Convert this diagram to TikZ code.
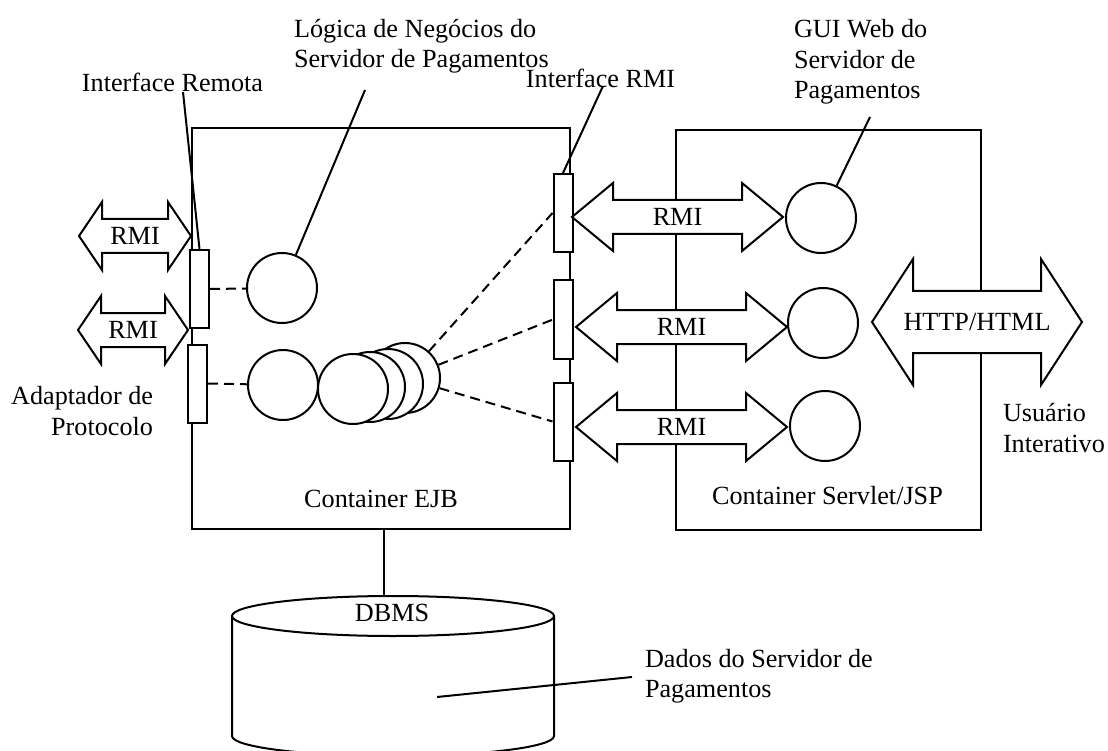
\documentclass[tikz,border=0pt]{standalone}
\usepackage{fontspec}
\setmainfont{Liberation Serif}
\usepackage{tikz}

\tikzset{
  container/.style={draw, inner sep=0pt},
  interface/.style={draw, fill=white, inner sep=0pt, minimum width=19pt, minimum height=78pt},
  componente/.style={circle, draw, fill=white, inner sep=0pt, minimum size=70pt},
  seta/.style={draw, fill=white},
  rotulo/.style={inner sep=0pt},
  tracejado/.style={dash pattern=on 10pt off 6pt}
}

% seta dupla larga: nome, x esq., x dir., eixo, meia haste, meia cabeca, comprimento da cabeca, texto
\newcommand{\setadupla}[8]{%
  \draw[seta] (#2,#4) -- (#2+#7,#4-#6) -- (#2+#7,#4-#5) -- (#3-#7,#4-#5) -- (#3-#7,#4-#6)
    -- (#3,#4) -- (#3-#7,#4+#6) -- (#3-#7,#4+#5) -- (#2+#7,#4+#5) -- (#2+#7,#4+#6) -- cycle;
  \node[rotulo] (#1) at ({(#2+#3)/2},#4) {#8};
}

\begin{document}
\begin{tikzpicture}[x=1pt, y=-1pt, line width=2pt, font=\fontsize{26.2}{30.5}\selectfont]
\useasboundingbox (0,0) rectangle (1108,751);

\node[container, minimum width=378pt, minimum height=401pt] (ejb) at (381,328.5) {};
\node[container, minimum width=305pt, minimum height=400pt] (web) at (828.5,330) {};
\node[rotulo, anchor=base] (ejbtxt) at (381,507) {Container EJB};
\node[rotulo, anchor=base] (webtxt) at (827.5,504) {Container Servlet/JSP};

\node[interface] (remota) at (199.5,289) {};
\node[interface] (adapt) at (197.5,383.5) {};
\node[componente] (logica) at (282,288) {};
\node[componente] (protocolo) at (283,385) {};
\foreach \i/\px/\py in {4/405/378, 3/388/384, 2/370/387, 1/353/389}
  \node[componente] (pilha\i) at (\px,\py) {};

\node[interface] (rmi1) at (563,213) {};
\node[interface] (rmi2) at (563.5,319.5) {};
\node[interface] (rmi3) at (563,421.5) {};

\node[componente] (gui1) at (821,218) {};
\node[componente] (gui2) at (823,323) {};
\node[componente] (gui3) at (825,426) {};

\draw[tracejado] (remota.east) -- (logica);
\draw[tracejado] (adapt.east) -- (protocolo);
\draw[tracejado] (pilha4) -- (rmi1.west);
\draw[tracejado] (pilha4) -- (rmi2.west);
\draw[tracejado] (pilha4) -- (rmi3.west);

\setadupla{rmiA}{79}{191}{236}{17}{34}{23}{RMI}
\setadupla{rmiB}{78}{188}{330}{17}{34}{23}{RMI}
\setadupla{rmiC}{572}{783}{217}{17}{34}{41}{RMI}
\setadupla{rmiD}{576}{787}{327}{17}{34}{41}{RMI}
\setadupla{rmiE}{576}{787}{427}{17}{34}{41}{RMI}
\setadupla{http}{872}{1082}{322}{31}{63}{41}{HTTP/HTML}

\node[rotulo, anchor=base] (lblremota) at (172.5,92) {Interface Remota};
\node[rotulo, anchor=west, align=left] (lbllogica) at (293,46) {Lógica de Negócios do\\Servidor de Pagamentos};
\node[rotulo, anchor=base] (lblrmi) at (600.5,88) {Interface RMI};
\node[rotulo, anchor=west, align=left] (lblgui) at (793,62) {GUI Web do\\Servidor de\\Pagamentos};
\node[rotulo, anchor=east, align=right] (lbladapt) at (154,411) {Adaptador de\\Protocolo};
\node[rotulo, anchor=west, align=left] (lblusuario) at (1002,428) {Usuário\\Interativo};
\node[rotulo, anchor=west, align=left] (lbldados) at (644,676) {Dados do Servidor de\\Pagamentos};

\coordinate (pLogica) at (365,90);
\coordinate (pRmi) at (603,86);
\coordinate (pGui) at (870,117);
\coordinate (pDados) at (632,677);
\coordinate (bd) at (437,697);
\draw ([xshift=10.5pt]lblremota.base) -- (remota.north);
\draw (pLogica) -- (logica);
\draw (pRmi) -- (rmi1.north);
\draw (pGui) -- (gui1);

% banco de dados
\draw (232,616) -- (232,736) arc[start angle=180, end angle=360, x radius=161pt, y radius=20pt] -- (554,616);
\draw (393,616) ellipse [x radius=161pt, y radius=20pt];
\node[rotulo, anchor=base] (dbms) at (392,621) {DBMS};
\coordinate (bdtopo) at (384,596);
\draw (bdtopo |- ejb.south) -- (bdtopo);
\draw (pDados) -- (bd);
\end{tikzpicture}
\end{document}
